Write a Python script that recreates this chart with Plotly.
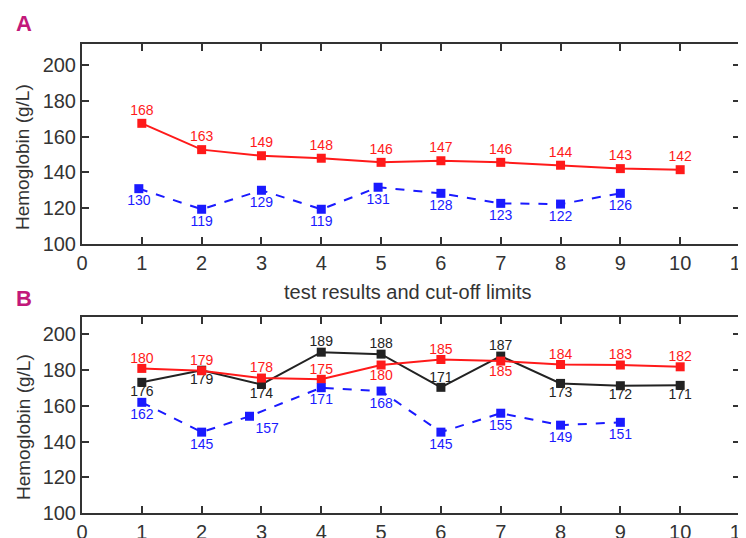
import plotly.graph_objects as go

# ---------------- data ----------------
x_cat = [1, 2, 3, 4, 5, 6, 7, 8, 9, 10]

a_red = [167.4, 152.7, 149.3, 147.9, 145.6, 146.5, 145.6, 144.0, 142.1, 141.5]
a_red_labels = ["168", "163", "149", "148", "146", "147", "146", "144", "143", "142"]
a_blue_x = [0.95, 2, 3, 4, 4.95, 6, 7, 8, 9]
a_blue = [130.9, 119.4, 130.0, 119.4, 131.7, 128.3, 122.7, 122.3, 128.3]
a_blue_labels = ["130", "119", "129", "119", "131", "128", "123", "122", "126"]

b_red = [181.0, 179.7, 175.6, 174.9, 182.9, 186.0, 185.1, 183.2, 182.9, 181.9]
b_red_labels = ["180", "179", "178", "175", "180", "185", "185", "184", "183", "182"]
b_black = [173.2, 180.0, 172.0, 190.1, 189.0, 170.4, 187.9, 172.6, 171.3, 171.5]
b_black_labels = ["176", "179", "174", "189", "188", "171", "187", "173", "172", "171"]
b_blue_x = [1, 2, 2.8, 4, 5, 6, 7, 8, 9]
b_blue = [162.0, 145.3, 154.2, 170.2, 168.3, 145.3, 155.9, 149.2, 150.8]
b_blue_labels = ["162", "145", "157", "171", "168", "145", "155", "149", "151"]

y_ticks = [100, 120, 140, 160, 180, 200]
x_ticks = [0, 1, 2, 3, 4, 5, 6, 7, 8, 9, 10, 11]

# ---------------- style ----------------
FONT = "Liberation Sans, Arial, sans-serif"
RED = "#ff1a1a"
BLUE = "#1a1aff"
BLACK = "#222222"
W, H = 746, 538
OFF = 8  # page body margin offset

b_red_pos = ["top center"] * 4 + ["bottom center", "top center", "bottom center"] + ["top center"] * 3
b_black_pos = ["bottom center"] * 3 + ["top center"] * 4 + ["bottom center"] * 3
b_blue_pos = ["bottom center", "bottom center", "bottom right"] + ["bottom center"] * 6


def series(fig, x, y, labels, color, pos, dash, xa, ya, top_gap=2, bot_gap=7):
    if isinstance(pos, str):
        pos = [pos] * len(x)
    gaps = [top_gap if p.startswith("top") else bot_gap for p in pos]
    fig.add_trace(go.Scatter(
        x=x, y=y, mode="lines+markers",
        line=dict(color=color, width=2, dash=dash),
        marker=dict(symbol="square", size=9, color=color),
        xaxis=xa, yaxis=ya, showlegend=False, hoverinfo="skip",
    ))
    fig.add_trace(go.Scatter(
        x=x, y=y, text=labels, mode="markers+text", textposition=pos, cliponaxis=False,
        marker=dict(size=gaps, opacity=0, color=color),
        textfont=dict(family=FONT, size=14, color=color),
        xaxis=xa, yaxis=ya, showlegend=False, hoverinfo="skip",
    ))


fig = go.Figure()
series(fig, x_cat, a_red, a_red_labels, RED, "top center", "solid", "x", "y", top_gap=6)
series(fig, a_blue_x, a_blue, a_blue_labels, BLUE, "bottom center", "dash", "x", "y", bot_gap=8)
series(fig, x_cat, b_black, b_black_labels, BLACK, b_black_pos, "solid", "x2", "y2", top_gap=2, bot_gap=3)
series(fig, x_cat, b_red, b_red_labels, RED, b_red_pos, "solid", "x2", "y2", top_gap=2, bot_gap=6)
series(fig, b_blue_x, b_blue, b_blue_labels, BLUE, b_blue_pos, "dash", "x2", "y2", bot_gap=8)

# screen-pixel layout targets, converted to figure coordinates
L = 82 - OFF
R = W - (740 - OFF)
a_top, a_bot = 44 - OFF, 244 - OFF
b_top, b_bot = 317 - OFF, 513 - OFF
PW = W - L - R

axis_common = dict(
    showline=True, linecolor="#333", linewidth=2, mirror="allticks",
    ticks="inside", ticklen=7, tickwidth=2, tickcolor="#333",
    showgrid=False, zeroline=False, automargin=False,
    tickfont=dict(family=FONT, size=20, color="#333"),
)

fig.update_layout(
    width=W, height=H,
    margin=dict(l=L, r=R, t=0, b=0),
    paper_bgcolor="white", plot_bgcolor="white",
    xaxis=dict(domain=[0, 1], anchor="y", range=[0, 11], tickvals=x_ticks, **axis_common),
    yaxis=dict(domain=[1 - a_bot / H, 1 - a_top / H], anchor="x", range=[100, 211.7],
               tickvals=y_ticks, **axis_common),
    xaxis2=dict(domain=[0, 1], anchor="y2", range=[0, 11], tickvals=x_ticks, **axis_common),
    yaxis2=dict(domain=[1 - b_bot / H, 1 - b_top / H], anchor="x2", range=[100, 209.8],
                tickvals=y_ticks, **axis_common),
)

for ycen in (157, 427):
    fig.add_annotation(text="Hemoglobin (g/L)", xref="paper", yref="paper",
                       x=(23 - OFF - L) / PW, y=1 - (ycen - OFF) / H, textangle=-90,
                       xanchor="center", yanchor="middle", showarrow=False,
                       font=dict(family=FONT, size=19, color="#333"))

fig.add_annotation(text="test results and cut-off limits", xref="paper", yref="paper",
                   x=(408 - OFF - L) / PW, y=1 - (292 - OFF) / H,
                   xanchor="center", yanchor="middle", showarrow=False,
                   font=dict(family=FONT, size=20, color="#333"))
for letter, ypix in (("A", 23), ("B", 298)):
    fig.add_annotation(text="<b>" + letter + "</b>", xref="paper", yref="paper",
                       x=(14 - OFF - L) / PW, y=1 - (ypix - OFF) / H,
                       xanchor="left", yanchor="middle", showarrow=False,
                       font=dict(family=FONT, size=22, color="#c2187a"))

fig.write_html("out.html")
